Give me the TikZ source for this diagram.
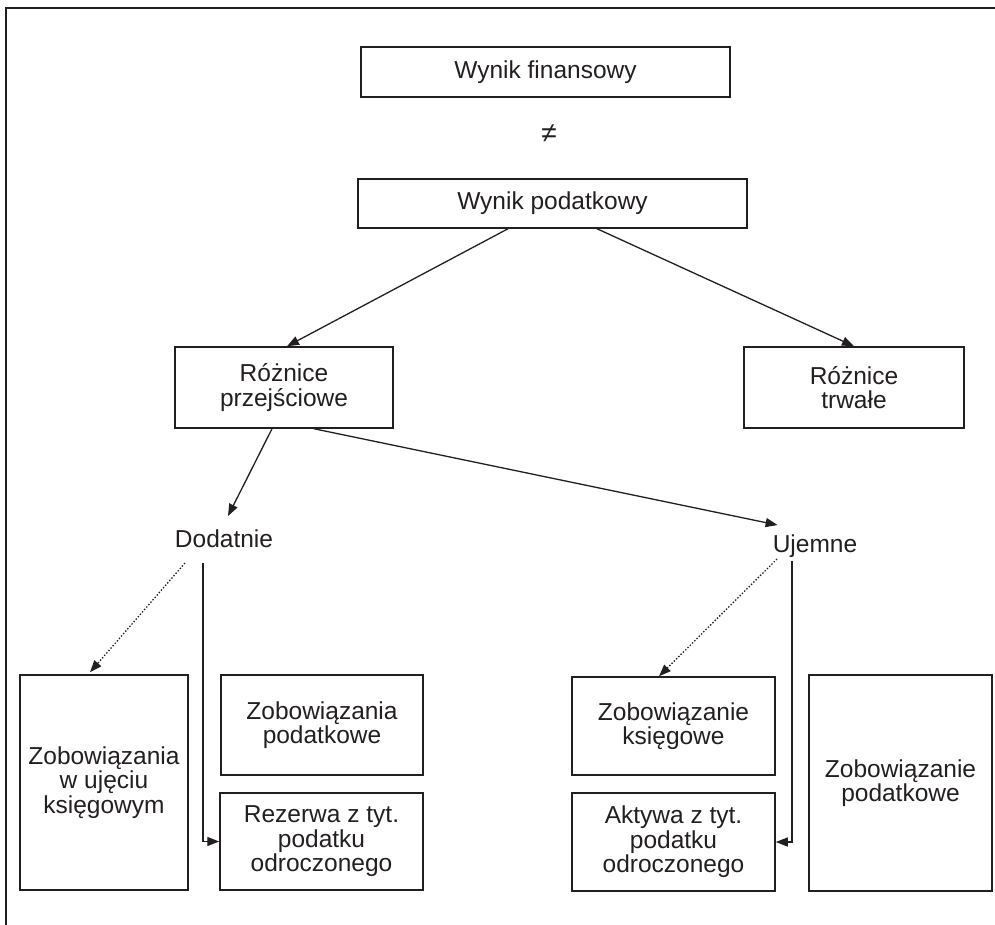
\documentclass[tikz,border=0pt]{standalone}
\usepackage{fontspec}
\setmainfont{Liberation Sans}
\usetikzlibrary{arrows.meta}
\definecolor{ink}{HTML}{231F20}
\begin{document}
\begin{tikzpicture}[x=1pt,y=-1pt,
  every node/.style={font=\fontsize{24.5}{24.5}\selectfont, text=ink},
  box/.style={draw=ink, line width=1.5pt, inner sep=0pt, align=center},
  lbl/.style={inner sep=0pt, anchor=base},
  arr/.style={draw=ink, line width=1.3pt, -{Triangle[length=12pt,width=9pt]}},
  dotarr/.style={arr, dash pattern=on 1.4pt off 1.8pt},
]
\useasboundingbox (0,0) rectangle (995,925);

% open frame: top and left edges only
\draw[ink, line width=1.3pt] (6,925) -- (6,8) -- (995,8);

% top level
\node[box, minimum width=369, minimum height=50] (fin) at (545.5,72) {Wynik finansowy};
\node[inner sep=1pt, font=\fontsize{28}{28}\selectfont] (neq) at (549,134) {≠};
\node[box, minimum width=389, minimum height=49] (pod) at (552.5,203.5) {Wynik podatkowy};

% kinds of differences
\node[box, minimum width=218, minimum height=81] (prz) at (284,387.5) {Różnice\\przejściowe};
\node[box, minimum width=220, minimum height=81] (trw) at (854,387.5) {Różnice\\trwałe};

% signs
\node[lbl] (dod) at (224,547) {Dodatnie};
\node[lbl] (uje) at (815,552) {Ujemne};

% bottom boxes, positive side
\node[box, minimum width=168, minimum height=215] (zuk) at (104,782.5) {Zobowiązania\\w ujęciu\\księgowym};
\node[box, minimum width=202, minimum height=100] (zpod) at (322,725) {Zobowiązania\\podatkowe};
\node[box, minimum width=203, minimum height=97] (rez) at (321.5,841.5) {Rezerwa z tyt.\\podatku\\odroczonego};

% bottom boxes, negative side
\node[box, minimum width=203, minimum height=98] (zks) at (673.5,726) {Zobowiązanie\\księgowe};
\node[box, minimum width=203, minimum height=98] (akt) at (673.5,842) {Aktywa z tyt.\\podatku\\odroczonego};
\node[box, minimum width=183, minimum height=216] (zpd) at (900.5,783) {Zobowiązanie\\podatkowe};

% connectors
\draw[arr] ([xshift=-44.5pt]pod.south) -- ([xshift=3pt]prz.north);
\draw[arr] ([xshift=44.5pt]pod.south) -- (trw.north);
\draw[arr] ([xshift=-12pt]prz.south) -- ([xshift=4pt,yshift=13pt]dod.north);
\draw[arr] ([xshift=30pt]prz.south) -- ([xshift=5pt,yshift=9pt]uje.north west);

\draw[dotarr] ([xshift=-39pt,yshift=-16pt]dod.base) -- ([xshift=-14pt,yshift=2pt]zuk.north);
\draw[arr] ([xshift=-21pt,yshift=-16pt]dod.base) |- (rez.west);

\draw[dotarr] ([xshift=-38pt,yshift=-7pt]uje.base) -- ([xshift=-14.5pt]zks.north);
\draw[arr] ([xshift=-23pt,yshift=-9pt]uje.base) |- (akt.east);
\end{tikzpicture}
\end{document}
